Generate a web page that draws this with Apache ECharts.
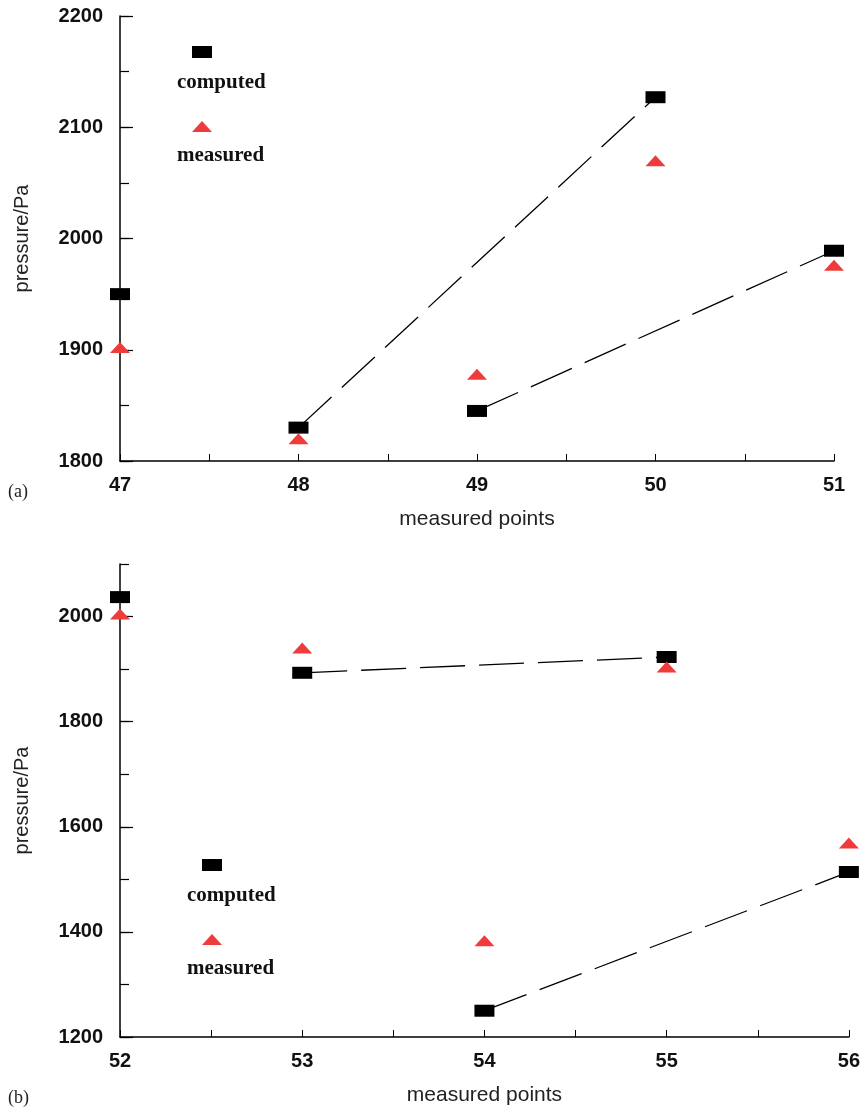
<!DOCTYPE html>
<html>
<head>
<meta charset="utf-8">
<script src="https://cdn.jsdelivr.net/npm/echarts@6/dist/echarts.min.js"></script>
<style>
  html, body { margin: 0; padding: 0; background: #fff; }
  #chart { width: 863px; height: 1112px; }
</style>
</head>
<body>
<div id="chart"></div>
<script>
// Panel (a): measured points 47-51
const pointsA = [47, 48, 49, 50, 51];
const computedA = [1950, 1830, 1845, 2127, 1989];
const measuredA = [1902, 1820, 1878, 2070, 1976];
const yTicksA = [1800, 1900, 2000, 2100, 2200];
const linksA = [[48, 50], [49, 51]];

// Panel (b): measured points 52-56
const pointsB = [52, 53, 54, 55, 56];
const computedB = [2037, 1893, 1250, 1923, 1514];
const measuredB = [2005, 1940, 1383, 1904, 1569];
const yTicksB = [1200, 1400, 1600, 1800, 2000];
const linksB = [[53, 55], [54, 56]];

const xTicksA = [47, 48, 49, 50, 51];
const xTicksB = [52, 53, 54, 55, 56];

const RED = '#EE3B3B';
const SANS = '"Liberation Sans", Arial, sans-serif';
const SERIF = '"Liberation Serif", "Times New Roman", serif';

function pairs(xs, ys) { return xs.map((x, i) => [x, ys[i]]); }
function linkData(xs, ys, link) {
  return link.map(x => [x, ys[xs.indexOf(x)]]);
}
const plain = v => String(v);

function xAxisFor(gridIndex, min, max, labels) {
  return {
    type: 'value', gridIndex, min, max, interval: 0.5,
    name: 'measured points', nameLocation: 'middle', nameGap: 48,
    nameTextStyle: { fontFamily: SANS, fontSize: 21, color: '#222' },
    axisLine: { show: true, onZero: false, lineStyle: { color: '#000', width: 1.5 } },
    axisTick: { show: true, inside: true, length: 7, lineStyle: { color: '#000', width: 1 } },
    axisLabel: {
      customValues: labels, margin: 14, formatter: plain,
      fontFamily: SANS, fontSize: 20, fontWeight: 'bold', color: '#111'
    },
    splitLine: { show: false }
  };
}

function yAxesFor(gridIndex, min, max, minorStep, labels) {
  return [{
    type: 'value', gridIndex, min, max, interval: minorStep, position: 'left',
    name: 'pressure/Pa', nameLocation: 'middle', nameGap: 88,
    nameTextStyle: { fontFamily: SANS, fontSize: 20, color: '#222' },
    axisLine: { show: true, onZero: false, lineStyle: { color: '#000', width: 1.5 } },
    axisTick: { show: true, inside: true, length: 9, lineStyle: { color: '#000', width: 1.2 } },
    axisLabel: {
      customValues: labels, margin: 17, formatter: plain,
      fontFamily: SANS, fontSize: 20, fontWeight: 'bold', color: '#111'
    },
    splitLine: { show: false }
  }, {
    type: 'value', gridIndex, min, max, interval: minorStep, position: 'left', offset: 0,
    axisLine: { show: false, onZero: false },
    axisTick: { show: true, inside: true, length: 13, customValues: labels, lineStyle: { color: '#000', width: 1.2 } },
    axisLabel: { show: false },
    splitLine: { show: false }
  }];
}

function seriesFor(xi, yi, xs, comp, meas, links) {
  const out = [];
  links.forEach(link => {
    out.push({
      type: 'line', xAxisIndex: xi, yAxisIndex: yi,
      data: linkData(xs, comp, link), symbol: 'none', z: 2,
      lineStyle: { color: '#000', width: 1.3, type: [45, 14] },
      silent: true
    });
  });
  out.push({
    name: 'computed', type: 'scatter', xAxisIndex: xi, yAxisIndex: yi,
    data: pairs(xs, comp), symbol: 'rect', symbolSize: [20, 12], clip: false, z: 4,
    itemStyle: { color: '#000', opacity: 1 }
  });
  out.push({
    name: 'measured', type: 'scatter', xAxisIndex: xi, yAxisIndex: yi,
    data: pairs(xs, meas), symbol: 'triangle', symbolSize: [20, 11], clip: false, z: 5,
    itemStyle: { color: RED, opacity: 1 }
  });
  return out;
}

function legendKey(x, y) {
  return [
    { type: 'rect', shape: { x: x - 10, y: y - 6, width: 20, height: 12 }, style: { fill: '#000' } },
    { type: 'text', x: x - 25, y: y + 31, style: { text: 'computed', font: 'bold 21px ' + SERIF, fill: '#111', verticalAlign: 'middle' } },
    { type: 'polygon', shape: { points: [[x - 10, y + 80], [x + 10, y + 80], [x, y + 69]] }, style: { fill: RED } },
    { type: 'text', x: x - 25, y: y + 104, style: { text: 'measured', font: 'bold 21px ' + SERIF, fill: '#111', verticalAlign: 'middle' } }
  ];
}

const chart = echarts.init(document.getElementById('chart'), null, { renderer: 'canvas' });
chart.setOption({
  backgroundColor: '#fff',
  animation: false,
  grid: [
    { left: 120, top: 16, width: 714, height: 445 },
    { left: 120, top: 564, width: 735, height: 473 }
  ],
  xAxis: [
    xAxisFor(0, 47, 51, xTicksA),
    xAxisFor(1, 52, 56, xTicksB)
  ],
  yAxis: [
    ...yAxesFor(0, 1800, 2200, 50, yTicksA),
    ...yAxesFor(1, 1200, 2100, 100, yTicksB)
  ],
  series: [
    ...seriesFor(0, 0, pointsA, computedA, measuredA, linksA),
    ...seriesFor(1, 2, pointsB, computedB, measuredB, linksB)
  ],
  graphic: [
    ...legendKey(202, 52),
    ...legendKey(212, 865),
    { type: 'text', x: 8, y: 492, style: { text: '(a)', font: '18px ' + SERIF, fill: '#222', verticalAlign: 'middle' } },
    { type: 'text', x: 8, y: 1098, style: { text: '(b)', font: '18px ' + SERIF, fill: '#222', verticalAlign: 'middle' } }
  ]
});
</script>
</body>
</html>
